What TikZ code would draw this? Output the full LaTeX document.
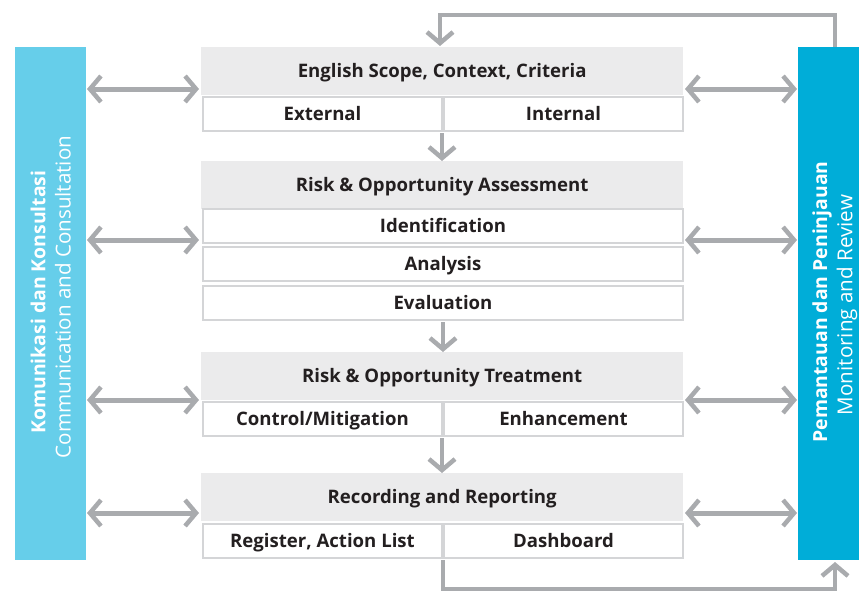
\documentclass[tikz,border=0pt]{standalone}
\usepackage{fontspec}
\setmainfont{Open Sans}
\usetikzlibrary{arrows.meta,positioning}
\definecolor{barL}{HTML}{66CEEA}
\definecolor{barR}{HTML}{00ADD8}
\definecolor{hdr}{HTML}{EBEBEC}
\definecolor{rim}{HTML}{D4D5D7}
\definecolor{arr}{HTML}{A9ABAE}
\definecolor{ink}{HTML}{231F20}
\tikzset{
  boxfont/.style={font=\fontsize{18.6}{20}\selectfont\bfseries, text=ink, text height=12pt, text depth=0pt},
  hdrbox/.style={fill=hdr, draw=none, minimum width=482pt, minimum height=48pt, anchor=north west, inner sep=0pt, boxfont},
  subbox/.style={fill=white, draw=rim, line width=2pt, minimum height=34pt, anchor=north west, inner sep=0pt, boxfont},
  halfbox/.style={subbox, minimum width=239pt},
  fullbox/.style={subbox, minimum width=480pt},
  chev/.tip={Straight Barb[length=11pt, width=26pt, line width=4.5pt]},
  twoway/.style={draw=arr, line width=5pt, {chev}-{chev}, shorten <=1pt, shorten >=1pt},
  oneway/.style={draw=arr, line width=4.5pt, -{chev}},
  loopline/.style={draw=arr, line width=4.5pt, -{chev}},
  sidebar/.style={draw=none, minimum width=71pt, minimum height=513pt, anchor=north west, inner sep=0pt},
  bartitle/.style={text=white, font=\fontsize{19.4}{22}\selectfont\bfseries, rotate=90},
  barsub/.style={text=white, font=\fontsize{20.6}{22}\selectfont, rotate=90}
}
\begin{document}
\begin{tikzpicture}[x=1pt,y=-1pt]
\useasboundingbox (0,0) rectangle (859,592);

% side bars
\node[sidebar, fill=barL] (left) at (15,47) {};
\node[sidebar, fill=barR, minimum width=61pt] (right) at (798,47) {};
\node[bartitle] (ltitle) at (38,302) {Komunikasi dan Konsultasi};
\node[barsub] (lsub) at (63,297) {Communication and Consultation};
\node[bartitle] (rtitle) at (822,302) {Pemantauan dan Peninjauan};
\node[barsub] (rsub) at (847,305) {Monitoring and Review};

% block 1
\node[hdrbox] (h1) at (201,47) {English Scope, Context, Criteria};
\node[halfbox] (ext) at (202,96) {External};
\node[halfbox] (int) at (443,96) {Internal};

% block 2
\node[hdrbox] (h2) at (201,161) {Risk \& Opportunity Assessment};
\node[fullbox] (ide) at (202,208) {Identification};
\node[fullbox] (ana) at (202,246) {Analysis};
\node[fullbox] (eva) at (202,285) {Evaluation};

% block 3
\node[hdrbox] (h3) at (201,352) {Risk \& Opportunity Treatment};
\node[halfbox] (ctl) at (202,401) {Control/Mitigation};
\node[halfbox] (enh) at (443,401) {Enhancement};

% block 4
\node[hdrbox] (h4) at (201,473) {Recording and Reporting};
\node[halfbox] (reg) at (202,523) {Register, Action List};
\node[halfbox] (dash) at (443,523) {Dashboard};

% flow between blocks
\draw[oneway] (ext.south east) ++(-1,1) coordinate (a1) -- (a1 |- h2.north);
\draw[oneway] (eva.south) ++(0,1) coordinate (a2) -- (a2 |- h3.north);
\draw[oneway] (ctl.south east) ++(-1,1) coordinate (a3) -- (a3 |- h4.north);

% exchange with the side bars
\foreach \hy/\nm in {89/b1, 240/b2, 400/b3, 513/b4}{
  \coordinate (L\nm) at (86,\hy);
  \coordinate (M\nm) at (200,\hy);
  \coordinate (N\nm) at (684,\hy);
  \coordinate (R\nm) at (798,\hy);
  \draw[twoway] (L\nm) -- (M\nm);
  \draw[twoway] (N\nm) -- (R\nm);
}

% review loop back to the scope block
\coordinate (topR) at (835,47);
\draw[loopline] (topR) -- (835,15) -- (440,15) -- (440,46);
% reporting feeds monitoring
\draw[loopline] (reg.south east) ++(0,1) coordinate (fb) -- (fb |- 0,589) -- (835,589) -- (835,562);
\end{tikzpicture}
\end{document}
